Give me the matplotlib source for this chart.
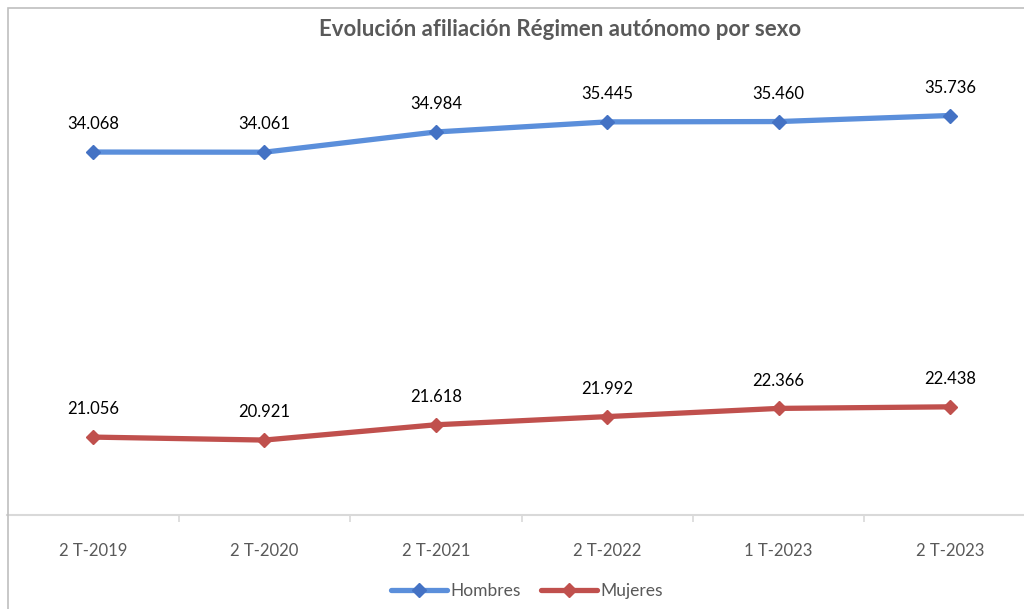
import matplotlib.pyplot as plt
from matplotlib.patches import Rectangle

periodos = ["2 T-2019", "2 T-2020", "2 T-2021", "2 T-2022", "1 T-2023", "2 T-2023"]
hombres = [34068, 34061, 34984, 35445, 35460, 35736]
mujeres = [21056, 20921, 21618, 21992, 22366, 22438]

plt.rcParams['font.family'] = ['Lato', 'DejaVu Sans']

W, H = 1024, 609
fig = plt.figure(figsize=(W / 100, H / 100), dpi=100)

# chart border (right/bottom edges fall outside the image)
fig.patches.append(Rectangle((8 / W, -0.05), 1.1, 1 - 8 / H + 0.05,
                             transform=fig.transFigure, fill=False,
                             edgecolor='#BFBFBF', linewidth=1.2))

ax = fig.add_axes([7.3 / W, (H - 515) / H, 1028.4 / W, 455 / H])
x = range(len(periodos))

series = [(hombres, '#5B8FDB', '#4472C4', 'Hombres'),
          (mujeres, '#C0504D', '#C0504D', 'Mujeres')]
for vals, lc, mc, name in series:
    ax.plot(x, vals, color=lc, linewidth=3.8, marker='D', markersize=7,
            markerfacecolor=mc, markeredgecolor=mc, label=name,
            solid_capstyle='round')
    for xi, v in zip(x, vals):
        ax.annotate(f"{v:,}".replace(",", "."), (xi, v), xytext=(0, 20),
                    textcoords='offset points', ha='center', va='center',
                    fontsize=12, color='#000000')

ax.set_xlim(-0.5, len(periodos) - 0.5)
ax.set_ylim(17500, 38270)
ax.set_yticks([])
for s in ['top', 'right', 'left']:
    ax.spines[s].set_visible(False)
ax.spines['bottom'].set_color('#D9D9D9')
ax.spines['bottom'].set_linewidth(1.5)

ax.set_xticks(list(x))
ax.set_xticklabels(periodos, fontsize=12, color='#595959')
ax.tick_params(axis='x', which='major', length=0, pad=20)
ax.set_xticks([i + 0.5 for i in range(len(periodos))], minor=True)
ax.tick_params(axis='x', which='minor', length=5, color='#D9D9D9', width=1.2)
ax.patch.set_visible(False)

fig.text(560 / W, 1 - 29 / H, "Evolución afiliación Régimen autónomo por sexo",
         ha='center', va='center', fontsize=16, fontweight='bold', color='#595959')

fig.legend(loc='center', bbox_to_anchor=(527 / W, 1 - 591 / H), ncol=2,
           frameon=False, fontsize=12.5, handlelength=3.2, handletextpad=0.2,
           columnspacing=1.2, labelcolor='#595959')

fig.savefig('out.png', dpi=100)
